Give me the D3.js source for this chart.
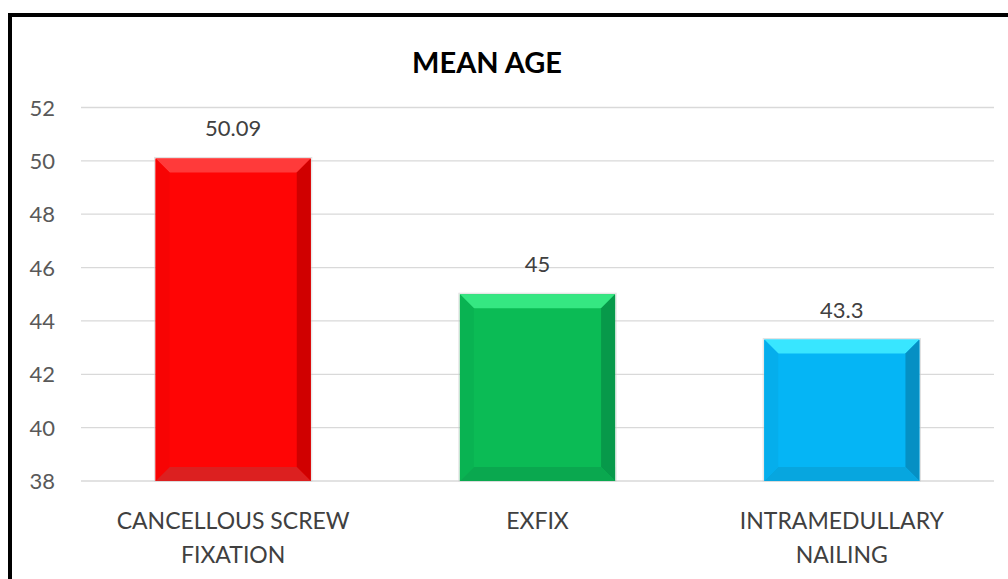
<!DOCTYPE html>
<html><head><meta charset="utf-8">
<script src="https://cdn.jsdelivr.net/npm/d3@7"></script>
<style>body{margin:0;background:#fff;overflow:hidden}svg{display:block}</style>
</head><body>
<svg id="c" width="1008" height="579"></svg>
<script>
const categories = [["CANCELLOUS SCREW","FIXATION"],["EXFIX"],["INTRAMEDULLARY","NAILING"]];
const values = [50.09, 45, 43.3];
const valueLabels = ["50.09","45","43.3"];
const yTicks = [38,40,42,44,46,48,50,52];
const faceColors = ["#ff0505","#0bbb55","#05b5f5"];
const topColors = ["#ff3a3a","#35e782","#38e6ff"];
const rightColors = ["#d00000","#07994a","#0590c4"];
const bottomColors = ["#dc2020","#0aa84f","#07a6df"];
const leftColors = ["#f70404","#09b352","#05aeec"];

const svg = d3.select("#c");
const font = "Lato, 'Open Sans', sans-serif";
svg.append("rect").attr("x",10).attr("y",15).attr("width",1020).attr("height",600)
  .attr("fill","#fff").attr("stroke","#000").attr("stroke-width",4);

const x = d3.scaleBand().domain(d3.range(categories.length)).range([81,994]).paddingInner(0.49).paddingOuter(0.245);
const y = d3.scaleLinear().domain([38,52]).range([481,107.5]);

svg.append("g").selectAll("line").data(yTicks).join("line")
  .attr("x1",81).attr("x2",994).attr("y1",d=>y(d)).attr("y2",d=>y(d))
  .attr("stroke","#d9d9d9").attr("stroke-width",1.3);

svg.append("g").selectAll("text").data(yTicks).join("text")
  .attr("x",55).attr("y",d=>y(d)+8).attr("text-anchor","end")
  .attr("font-family",font).attr("font-size",22).attr("fill","#595959").text(d=>d);

svg.append("text").attr("x",487).attr("y",73).attr("text-anchor","middle")
  .attr("font-family",font).attr("font-weight","bold").attr("font-size",29).attr("fill","#000").text("MEAN AGE");

const b = 14;
values.forEach((v,i)=>{
  const x0 = x(i), x1 = x(i)+x.bandwidth(), y0 = y(v), y1 = y(38);
  const g = svg.append("g");
  g.append("rect").attr("x",x0-1).attr("y",y0-1).attr("width",x1-x0+2).attr("height",y1-y0+1)
    .attr("fill","none").attr("stroke","#cccccc").attr("stroke-opacity",0.6);
  g.append("rect").attr("x",x0).attr("y",y0).attr("width",x1-x0).attr("height",y1-y0).attr("fill",faceColors[i]);
  const poly = (pts,c)=>g.append("polygon").attr("points",pts.map(p=>p.join(",")).join(" ")).attr("fill",c);
  poly([[x0,y0],[x1,y0],[x1-b,y0+b],[x0+b,y0+b]], topColors[i]);
  poly([[x1,y0],[x1,y1],[x1-b,y1-b],[x1-b,y0+b]], rightColors[i]);
  poly([[x0,y1],[x1,y1],[x1-b,y1-b],[x0+b,y1-b]], bottomColors[i]);
  poly([[x0,y0],[x0+b,y0+b],[x0+b,y1-b],[x0,y1]], leftColors[i]);
  svg.append("text").attr("x",x(i)+x.bandwidth()/2).attr("y",y0-22).attr("text-anchor","middle")
    .attr("font-family",font).attr("font-size",22).attr("fill","#404040").text(valueLabels[i]);
});

categories.forEach((lines,i)=>{
  const t = svg.append("text").attr("text-anchor","middle").attr("font-family",font)
    .attr("font-size",23).attr("fill","#404040");
  lines.forEach((l,j)=>t.append("tspan").attr("x",x(i)+x.bandwidth()/2).attr("y",529+j*34).text(l));
});
</script>
</body></html>
